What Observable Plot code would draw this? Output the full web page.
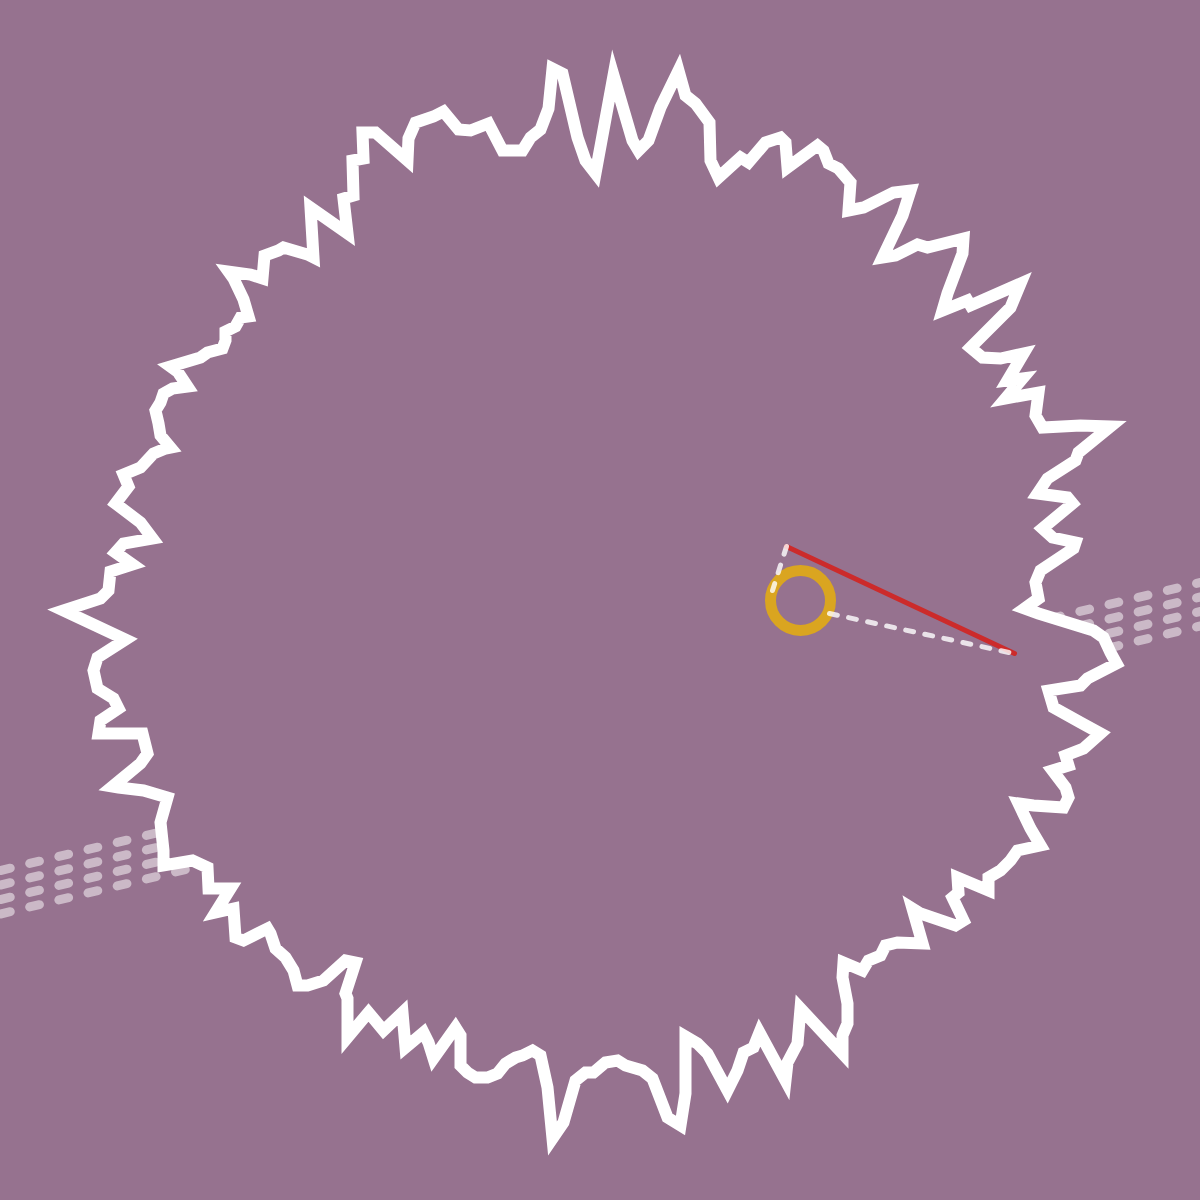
<!DOCTYPE html>
<html>
<head>
<meta charset="utf-8">
<script src="https://cdn.jsdelivr.net/npm/d3@7"></script>
<script src="https://cdn.jsdelivr.net/npm/@observablehq/plot@0.6"></script>
<style>
  html, body { margin: 0; padding: 0; background: #96728f; overflow: hidden; }
</style>
</head>
<body>
<div id="chart"></div>
<script>
// outline vertices (x, y in px)
const outline = [
  [63,610],[100,598],[108,590],[110,571],[132,564],[115,552],[123,543],[152,538],[140,522],[115,503],
  [128,486],[123,474],[140,467],[153,453],[165,448],[170,447],[160,435],[158,423],[155,410],[160,402],
  [163,393],[172,388],[187,386],[177,371],[170,366],[200,357],[207,352],[222,348],[225,340],[225,331],
  [235,326],[240,317],[248,316],[243,299],[233,278],[228,271],[250,274],[262,278],[264,255],[278,250],
  [283,247],[307,254],[313,257],[310,207],[347,233],[343,198],[353,195],[352,160],[363,158],[362,132],
  [375,132],[407,160],[408,138],[415,122],[433,116],[443,111],[458,129],[470,130],[488,123],[502,150],
  [522,150],[530,137],[540,129],[548,108],[552,68],[562,73],[577,137],[585,160],[595,173],[613,75],
  [632,140],[638,150],[648,140],[660,107],[678,70],[685,95],[695,103],[709,122],[710,160],[718,177],
  [740,157],[748,162],[765,142],[780,137],[785,142],[787,167],[817,145],[823,150],[828,163],[838,168],
  [850,182],[848,210],[863,207],[893,192],[910,190],[902,215],[882,257],[895,255],[917,244],[927,247],
  [963,238],[962,253],[947,293],[942,310],[967,300],[970,305],[1020,283],[1010,307],[970,347],[982,357],
  [1000,358],[1023,353],[1007,380],[1022,378],[1005,398],[1038,392],[1035,415],[1042,427],[1080,425],[1110,426],
  [1078,452],[1075,460],[1047,478],[1037,493],[1067,497],[1072,503],[1042,528],[1052,537],[1075,542],[1073,548],
  [1040,570],[1035,582],[1038,598],[1024,608],[1038,613],[1093,630],[1103,637],[1110,652],[1116,663],[1087,678],
  [1080,685],[1048,690],[1053,707],[1080,722],[1100,733],[1083,748],[1065,755],[1068,765],[1052,770],[1065,787],
  [1068,797],[1063,807],[1033,805],[1018,803],[1030,828],[1040,845],[1017,850],[1010,860],[1000,870],[988,877],
  [988,890],[957,877],[958,892],[952,897],[963,920],[955,925],[920,913],[912,908],[922,943],[897,942],
  [885,945],[880,955],[868,960],[862,970],[843,962],[842,977],[847,1003],[847,1023],[842,1035],[842,1053],
  [800,1008],[797,1043],[787,1062],[785,1080],[759,1032],[753,1047],[743,1052],[737,1070],[727,1090],[707,1053],
  [697,1043],[685,1036],[685,1093],[680,1125],[667,1117],[652,1078],[642,1070],[625,1065],[617,1060],[605,1062],
  [593,1072],[585,1072],[575,1080],[563,1122],[552,1138],[547,1087],[540,1055],[532,1050],[522,1055],[515,1057],
  [505,1063],[497,1073],[487,1077],[475,1077],[467,1072],[460,1065],[460,1035],[455,1027],[433,1058],[428,1042],
  [423,1032],[405,1047],[402,1012],[383,1030],[368,1012],[347,1037],[347,998],[345,993],[355,962],[345,960],
  [323,980],[307,985],[297,985],[293,970],[285,957],[275,948],[270,933],[267,928],[243,940],[235,937],
  [233,908],[215,912],[230,888],[208,888],[207,867],[192,860],[163,865],[163,850],[160,822],[167,797],
  [143,790],[118,787],[112,786],[123,777],[140,763],[147,753],[142,733],[98,733],[100,720],[118,708],
  [113,698],[97,688],[93,670],[97,657],[125,639]
];

// faint band of four lines crossing the picture
const bandX = [0, 1200];
const bandLeftY = [870, 884.5, 899, 913.5];
const bandRightY = [582, 596.5, 611, 625.5];

// ring, red segment and the two dashed guides
const ringX = [800];
const ringY = [600];
const redLine = [[786, 546], [1014, 653]];
const guides = [
  [[786, 546], [772, 590]],
  [[829, 613], [1013, 653]]
];

const bg = "#96728f";

const bandRows = bandLeftY.flatMap((y0, i) => [
  {x: bandX[0], y: y0, row: i},
  {x: bandX[1], y: bandRightY[i], row: i}
]);
const guideRows = guides.flatMap((g, i) => g.map(p => ({x: p[0], y: p[1], g: i})));

const chart = Plot.plot({
  width: 1200,
  height: 1200,
  margin: 0,
  x: {domain: [0, 1200], range: [0, 1200], axis: null},
  y: {domain: [0, 1200], range: [0, 1200], axis: null},
  style: {background: bg},
  marks: [
    Plot.line(bandRows, {x: "x", y: "y", z: "row", stroke: "white", strokeOpacity: 0.5,
      strokeWidth: 9, strokeDasharray: "10,20", strokeLinecap: "round"}),
    Plot.line(outline, {x: d => d[0], y: d => d[1], curve: "linear-closed", fill: bg,
      stroke: "white", strokeWidth: 12, strokeLinejoin: "miter", strokeMiterlimit: 12}),
    Plot.dot(ringX.map((x, i) => ({x, y: ringY[i]})), {x: "x", y: "y", r: 30,
      fill: "none", stroke: "#daa520", strokeWidth: 11}),
    Plot.line(redLine, {x: d => d[0], y: d => d[1], stroke: "#cc2b2b", strokeWidth: 5}),
    Plot.line(guideRows, {x: "x", y: "y", z: "g", stroke: "white", strokeOpacity: 0.8,
      strokeWidth: 5, strokeDasharray: "8,11.5", strokeLinecap: "round"})
  ]
});

document.querySelector("#chart").append(chart);
</script>
</body>
</html>
